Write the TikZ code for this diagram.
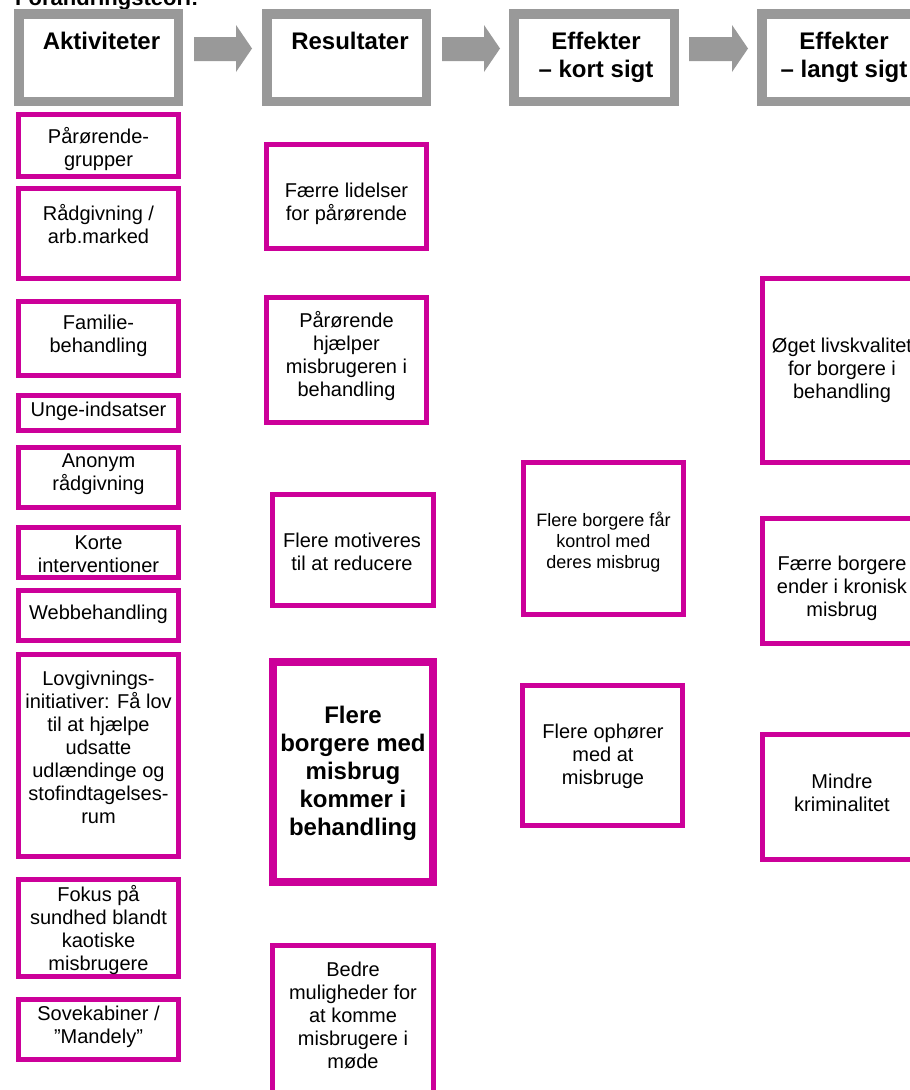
\documentclass[tikz,border=0pt]{standalone}
\usepackage{fontspec}
\setmainfont{Liberation Sans}
\definecolor{mag}{RGB}{204,0,153}
\definecolor{hgray}{RGB}{153,153,153}
\tikzset{
  hbox/.style={draw=hgray, line width=9.5pt, inner sep=0pt, minimum height=87.5pt},
  mbox/.style={draw=mag, line width=5pt, inner sep=0pt, minimum width=160pt},
  bbox/.style={draw=mag, line width=8pt, inner sep=0pt, minimum width=160pt},
  htxt/.style={font=\bfseries\fontsize{24}{28}\selectfont, align=center, inner sep=0pt, anchor=north},
  txt/.style={font=\fontsize{20}{23}\selectfont, align=center, inner sep=0pt},
  stxt/.style={font=\fontsize{18}{21}\selectfont, align=center, inner sep=0pt},
  btxt/.style={font=\bfseries\fontsize{24}{28}\selectfont, align=center, inner sep=0pt},
  garrow/.style={fill=hgray, draw=none}
}
\begin{document}
\begin{tikzpicture}[x=1pt,y=-1pt]
\useasboundingbox (0,0) rectangle (910,1090);
\fill[white] (0,0) rectangle (910,1090);

% title (cut off at top)
\node[anchor=base west, font=\bfseries\fontsize{22}{26}\selectfont, inner sep=0pt] (title) at (15,5) {Forandringsteori:};

% headers
\node[hbox, minimum width=159.5pt] (h1) at (98.5,57.5) {};
\node[hbox, minimum width=159.5pt] (h2) at (346.5,57.5) {};
\node[hbox, minimum width=160.5pt] (h3) at (594,57.5) {};
\node[hbox, minimum width=159.5pt] (h4) at (841.5,57.5) {};
\node[htxt] (h1t) at (101.5,32) {Aktiviteter};
\node[htxt] (h2t) at (350,32) {Resultater};
\node[htxt] (h3t) at (596,32) {Effekter\\– kort sigt};
\node[htxt] (h4t) at (844,32) {Effekter\\– langt sigt};

% block arrows
\fill[garrow] (194,37) -- (236,37) -- (236,25) -- (252,48.5) -- (236,72) -- (236,61) -- (194,61) -- cycle;
\fill[garrow] (442,37) -- (484,37) -- (484,25) -- (500,48.5) -- (484,72) -- (484,61) -- (442,61) -- cycle;
\fill[garrow] (689,37) -- (732,37) -- (732,25) -- (748,48.5) -- (732,72) -- (732,61) -- (689,61) -- cycle;

% column 1: Aktiviteter
\node[mbox, minimum height=62pt] (a1) at (98.5,145.5) {};
\node[txt] (a1t) at (98.5,149) {Pårørende-\\grupper};
\node[mbox, minimum height=90pt] (a2) at (98.5,233.5) {};
\node[txt] (a2t) at (98.5,224) {Rådgivning /\\arb.marked};
\node[mbox, minimum height=74pt] (a3) at (98.5,338.5) {};
\node[txt] (a3t) at (98.5,336) {Familie-\\behandling};
\node[mbox, minimum height=35pt] (a4) at (98.5,413) {};
\node[txt] (a4t) at (98.5,411) {Unge-indsatser};
\node[mbox, minimum height=60pt] (a5) at (98.5,477.5) {};
\node[txt] (a5t) at (98.5,474.5) {Anonym\\rådgivning};
\node[mbox, minimum height=50pt] (a6) at (98.5,552.5) {};
\node[txt] (a6t) at (98.5,554) {Korte\\interventioner};
\node[mbox, minimum height=50pt] (a7) at (98.5,615.5) {};
\node[txt] (a7t) at (98.5,614) {Webbehandling};
\node[mbox, minimum height=202pt] (a8) at (98.5,755.5) {};
\node[txt] (a8t) at (98.5,747.5) {Lovgivnings-\\initiativer: Få lov\\til at hjælpe\\udsatte\\udlændinge og\\stofindtagelses-\\rum};
\node[mbox, minimum height=97pt] (a9) at (98.5,928) {};
\node[txt] (a9t) at (98.5,930) {Fokus på\\sundhed blandt\\kaotiske\\misbrugere};
\node[mbox, minimum height=60pt] (a10) at (98.5,1029.5) {};
\node[txt] (a10t) at (98.5,1027) {Sovekabiner /\\”Mandely”};

% column 2: Resultater
\node[mbox, minimum height=104pt] (r1) at (346.5,196.5) {};
\node[txt] (r1t) at (346.5,204) {Færre lidelser\\for pårørende};
\node[mbox, minimum height=125pt] (r2) at (346.5,360) {};
\node[txt] (r2t) at (346.5,356) {Pårørende\\hjælper\\misbrugeren i\\behandling};
\node[mbox, minimum width=161pt, minimum height=111pt] (r3) at (353,550) {};
\node[txt] (r3t) at (352,552) {Flere motiveres\\til at reducere};
\node[bbox, minimum height=220pt] (r4) at (353,772) {};
\node[btxt] (r4t) at (353,773) {Flere\\borgere med\\misbrug\\kommer i\\behandling};
\node[mbox, minimum width=161pt, minimum height=152pt] (r5) at (353,1021.5) {};
\node[txt] (r5t) at (353,1015) {Bedre\\muligheder for\\at komme\\misbrugere i\\møde};

% column 3: Effekter - kort sigt
\node[mbox, minimum height=152pt] (k1) at (603.5,538.5) {};
\node[stxt] (k1t) at (603.5,542) {Flere borgere får\\kontrol med\\deres misbrug};
\node[mbox, minimum height=140pt] (k2) at (602.5,755.5) {};
\node[txt] (k2t) at (603,756) {Flere ophører\\med at\\misbruge};

% column 4: Effekter - langt sigt
\node[mbox, minimum height=184pt] (l1) at (842.5,370.5) {};
\node[txt] (l1t) at (842,370) {Øget livskvalitet\\for borgere i\\behandling};
\node[mbox, minimum height=125pt] (l2) at (842.5,581) {};
\node[txt] (l2t) at (842,588) {Færre borgere\\ender i kronisk\\misbrug};
\node[mbox, minimum height=125pt] (l3) at (842.5,797) {};
\node[txt] (l3t) at (842,792.5) {Mindre\\kriminalitet};
\end{tikzpicture}
\end{document}
